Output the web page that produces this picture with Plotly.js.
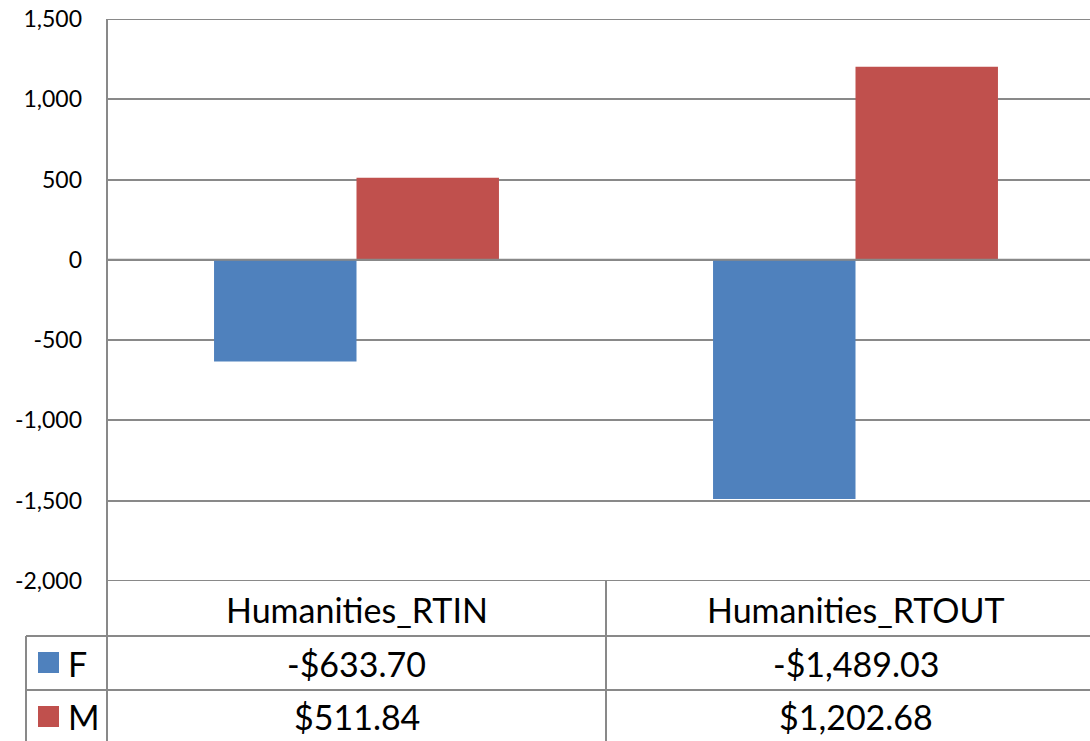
<!DOCTYPE html>
<html>
<head>
<meta charset="utf-8">
<script src="https://cdn.plot.ly/plotly-3.0.1.min.js"></script>
<style>html,body{margin:0;padding:0;background:#fff;}#chart{width:1090px;height:741px;}</style>
</head>
<body>
<div id="chart"></div>
<script>
// ---- data ----
var categories = ['Humanities_RTIN', 'Humanities_RTOUT'];
var seriesNames = ['F', 'M'];
var valuesF = [-633.70, -1489.03];
var valuesM = [511.84, 1202.68];
var tickValues = [1500, 1000, 500, 0, -500, -1000, -1500, -2000];
var tickLabels = ['1,500', '1,000', '500', '0', '-500', '-1,000', '-1,500', '-2,000'];

// ---- layout helpers ----
var W = 1090, H = 741;
var mL = 107, mR = 0, mT = 19, mB = 160;
var plotW = W - mL - mR, plotH = H - mT - mB;
function px(x) { return (x - mL) / plotW; }
function py(y) { return (H - mB - y) / plotH; }
function money(v) {
  var s = Math.abs(v).toLocaleString('en-US', {minimumFractionDigits: 2, maximumFractionDigits: 2});
  return (v < 0 ? '-' : '') + '$' + s;
}

var FONT = 'Lato, Calibri, Carlito, sans-serif';
var BLUE = '#4F81BD', RED = '#C0504D', GRID = '#898989';
var xs = categories.map(function (c, i) { return i; });
var yMin = tickValues[tickValues.length - 1], yMax = tickValues[0];

var traces = [
  {type: 'bar', name: seriesNames[0], x: xs, y: valuesF, marker: {color: BLUE}, hoverinfo: 'skip'},
  {type: 'bar', name: seriesNames[1], x: xs, y: valuesM, marker: {color: RED}, hoverinfo: 'skip'}
];

var catW = 499; // px per category
var shapes = [
  // zero axis line on top of bars
  {type: 'line', xref: 'paper', yref: 'y', x0: 0, x1: 1, y0: 0, y1: 0, line: {color: GRID, width: 2}, layer: 'above'},
  // bottom gridline / table top
  {type: 'line', xref: 'paper', yref: 'y', x0: 0, x1: 1, y0: yMin, y1: yMin, line: {color: GRID, width: 2}},
  // top gridline
  {type: 'line', xref: 'paper', yref: 'y', x0: 0, x1: 1, y0: yMax, y1: yMax, line: {color: GRID, width: 2}},
  // left axis line extending through table
  {type: 'line', xref: 'paper', yref: 'paper', x0: 0, x1: 0, y0: 1, y1: py(H + 5), line: {color: GRID, width: 2}},
  // table row lines
  {type: 'line', xref: 'paper', yref: 'paper', x0: px(26), x1: 1, y0: py(636), y1: py(636), line: {color: GRID, width: 2}},
  {type: 'line', xref: 'paper', yref: 'paper', x0: px(26), x1: 1, y0: py(690), y1: py(690), line: {color: GRID, width: 2}},
  // left legend column border
  {type: 'line', xref: 'paper', yref: 'paper', x0: px(26), x1: px(26), y0: py(636), y1: py(H + 5), line: {color: GRID, width: 2}},
  // category divider
  {type: 'line', xref: 'x', yref: 'paper', x0: 0.5, x1: 0.5, y0: 0, y1: py(H + 5), line: {color: GRID, width: 2}},
  // legend keys
  {type: 'rect', xref: 'paper', yref: 'paper', x0: px(38), x1: px(59), y0: py(673), y1: py(652), fillcolor: BLUE, line: {width: 0}},
  {type: 'rect', xref: 'paper', yref: 'paper', x0: px(38), x1: px(59), y0: py(727), y1: py(706), fillcolor: RED, line: {width: 0}}
];

var annotations = [];
var tfont = {family: FONT, size: 34, color: '#000'};
categories.forEach(function (c, i) {
  annotations.push({xref: 'x', yref: 'paper', x: xs[i], y: py(609), text: c, showarrow: false, xanchor: 'center', yanchor: 'middle', font: tfont});
  annotations.push({xref: 'x', yref: 'paper', x: xs[i], y: py(663), text: money(valuesF[i]), showarrow: false, xanchor: 'center', yanchor: 'middle', font: tfont});
  annotations.push({xref: 'x', yref: 'paper', x: xs[i], y: py(716), text: money(valuesM[i]), showarrow: false, xanchor: 'center', yanchor: 'middle', font: tfont});
});
annotations.push({xref: 'paper', yref: 'paper', x: px(66), y: py(663), text: seriesNames[0], showarrow: false, xanchor: 'left', yanchor: 'middle', font: tfont});
annotations.push({xref: 'paper', yref: 'paper', x: px(66), y: py(716), text: seriesNames[1], showarrow: false, xanchor: 'left', yanchor: 'middle', font: tfont});

var layout = {
  width: W, height: H,
  margin: {l: mL, r: mR, t: mT, b: mB, pad: 0},
  paper_bgcolor: '#fff', plot_bgcolor: '#fff',
  showlegend: false,
  barmode: 'group', bargap: 0.429, bargroupgap: 0,
  xaxis: {range: [-0.5, -0.5 + plotW / catW], showticklabels: false, showgrid: false, zeroline: false, showline: false, ticks: '', fixedrange: true},
  yaxis: {range: [yMin, yMax], tickvals: tickValues, ticktext: tickLabels, showgrid: true, gridcolor: GRID, gridwidth: 2,
          zeroline: false, showline: false, ticks: '', ticklabelstandoff: 24,
          tickfont: {family: FONT, size: 23, color: '#000'}, fixedrange: true},
  shapes: shapes,
  annotations: annotations
};

Plotly.newPlot('chart', traces, layout, {displayModeBar: false, staticPlot: true});
</script>
</body>
</html>
